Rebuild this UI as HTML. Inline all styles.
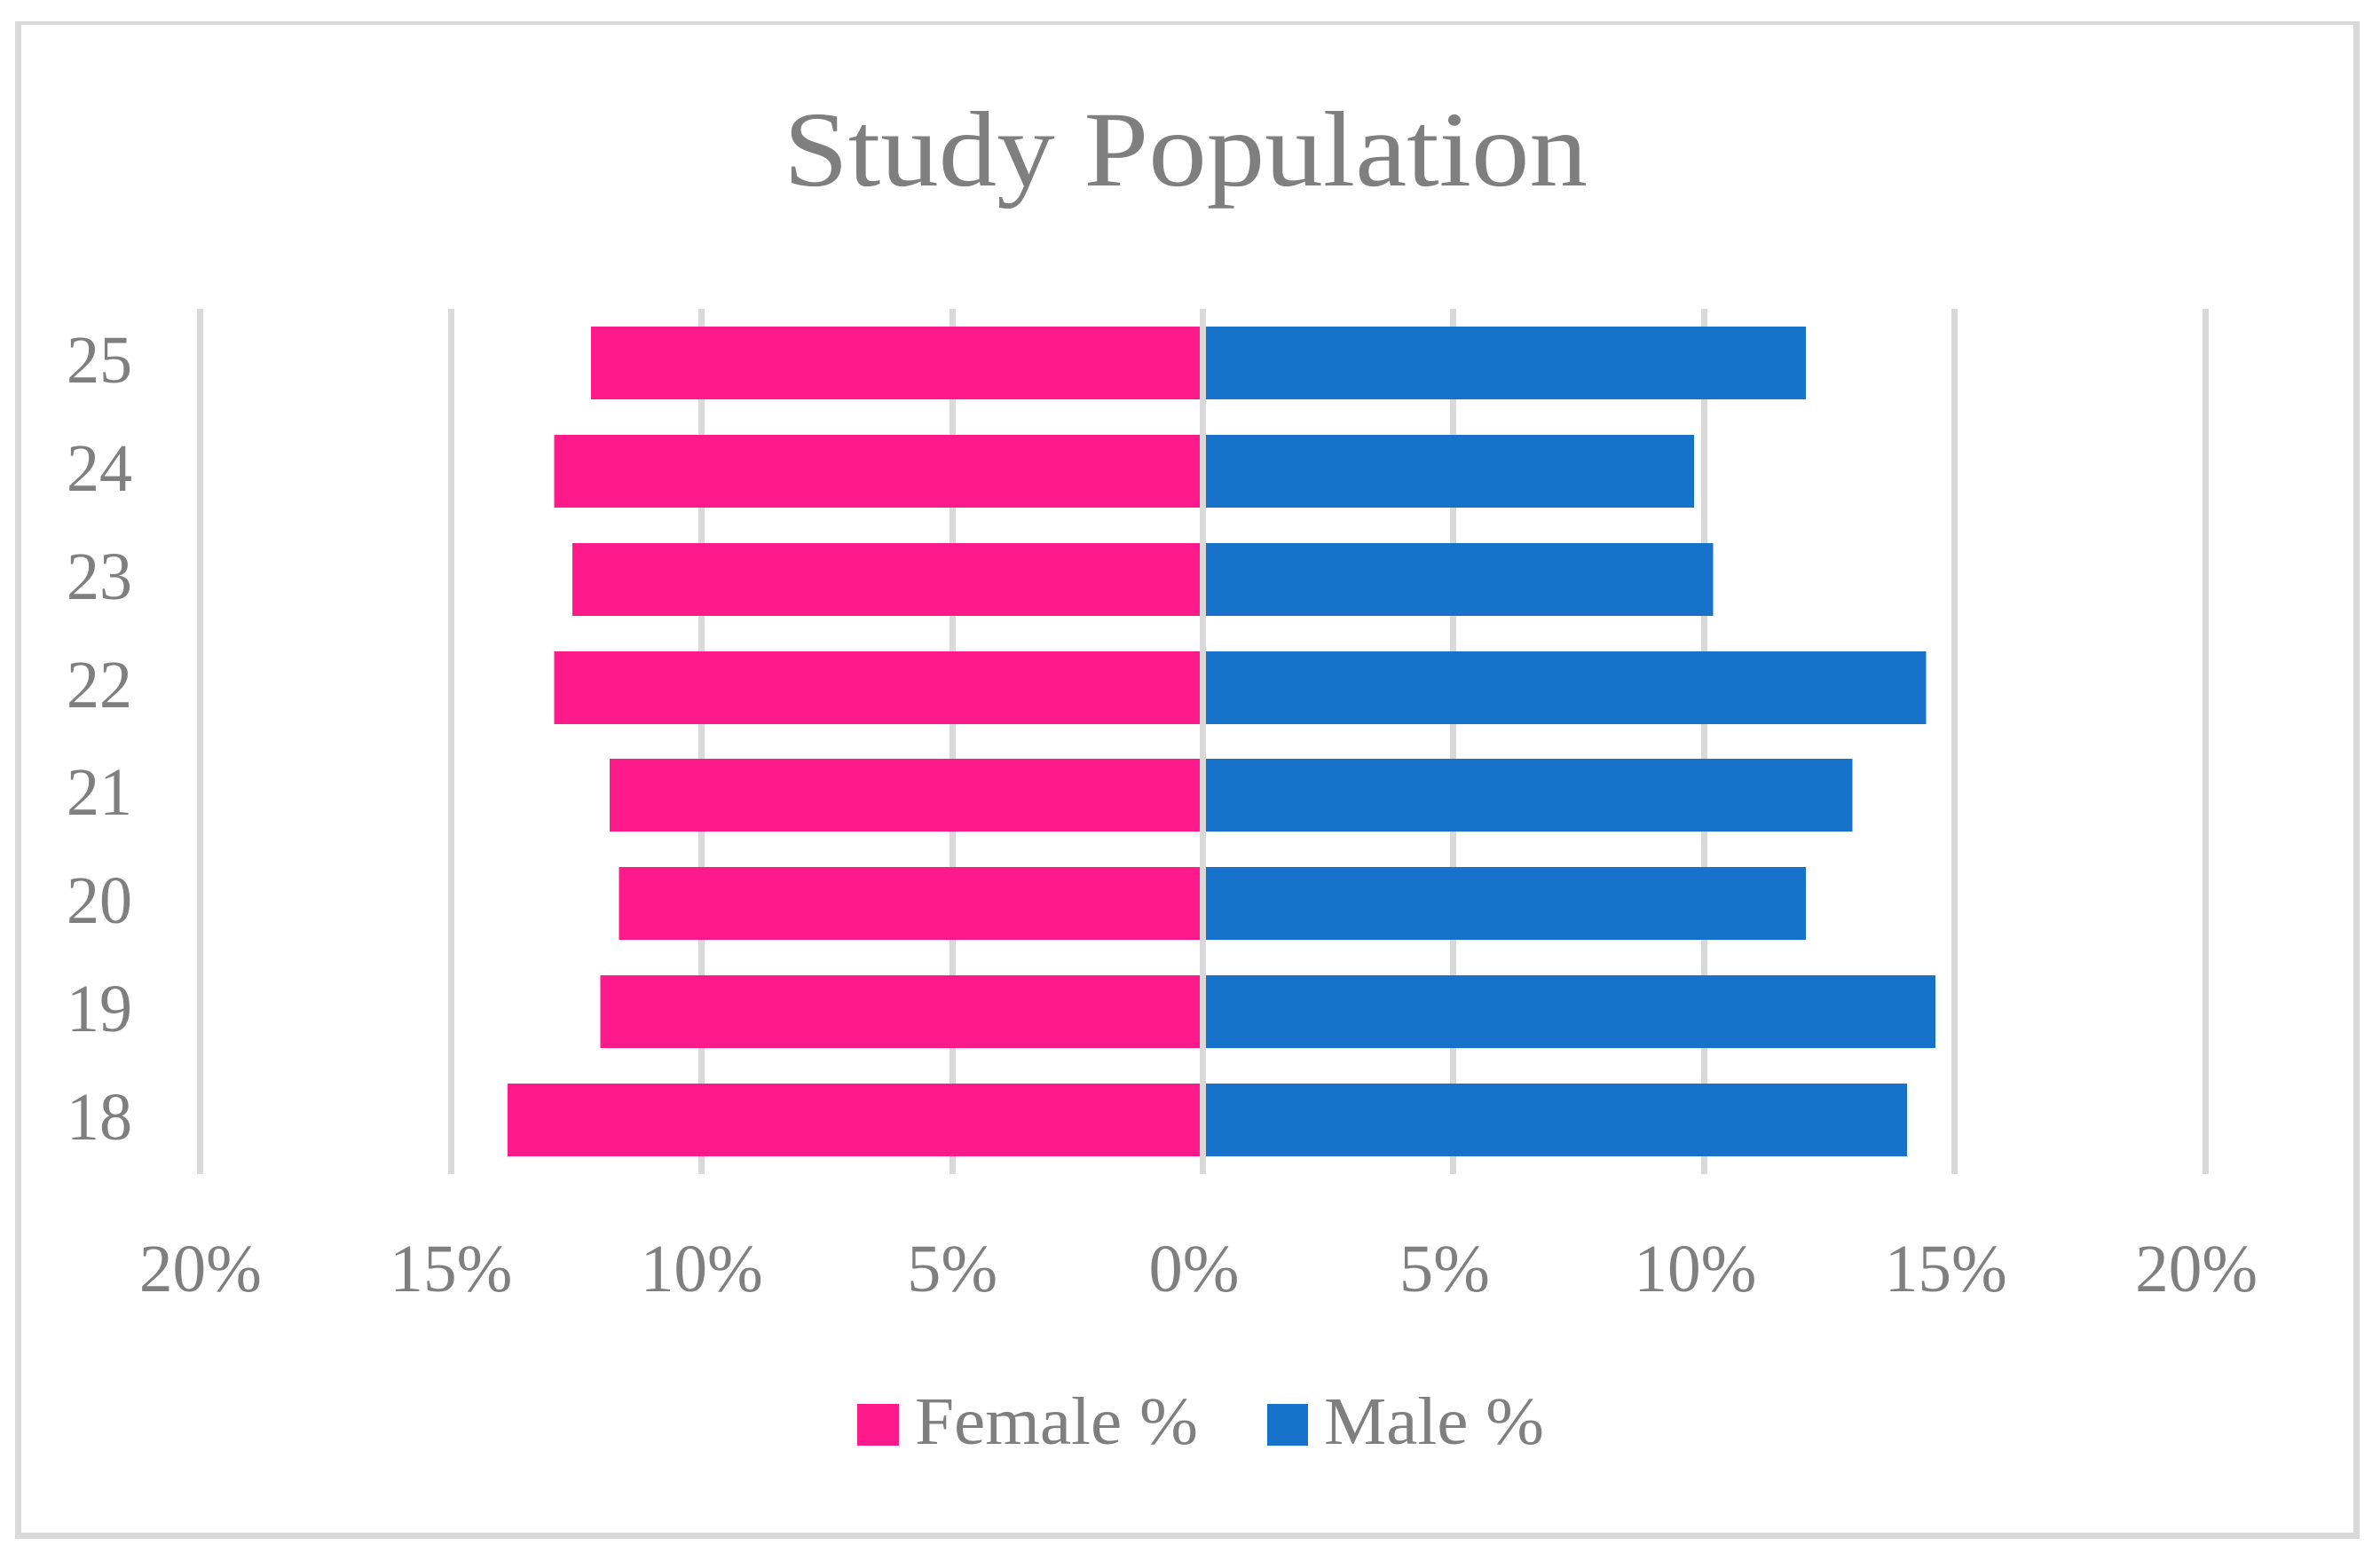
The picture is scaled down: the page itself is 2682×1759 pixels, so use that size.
<!DOCTYPE html>
<html lang="en">
<head>
<meta charset="utf-8">
<title>Study Population</title>
<style>
html,body{margin:0;padding:0;background:#fff;}
svg{display:block;}
text{font-family:"Liberation Serif","DejaVu Serif",serif;fill:#7f7f7f;}
</style>
</head>
<body>
<svg id="chart" xmlns="http://www.w3.org/2000/svg" width="2682" height="1759" viewBox="0 0 2682 1759">
  <rect x="0" y="0" width="2682" height="1759" fill="#ffffff"/>
  <g fill="#d9d9d9" shape-rendering="crispEdges">
    <rect x="17" y="24" width="2642" height="4"/>
    <rect x="17" y="1727" width="2642" height="7"/>
    <rect x="17" y="24" width="7" height="1710"/>
    <rect x="2652" y="24" width="7" height="1710"/>
  </g>
  <text x="883" y="209" font-size="121" textLength="906" lengthAdjust="spacingAndGlyphs">Study Population</text>
  <g id="grid"></g>
  <g id="bars"></g>
  <g id="zero"></g>
  <g id="yaxis"></g>
  <g id="xaxis"></g>
  <g>
    <g>
      <rect x="966" y="1582" width="47" height="47" fill="#ff1a8c"/>
      <text x="1031" y="1627" font-size="76" textLength="319" lengthAdjust="spacingAndGlyphs">Female %</text>
    </g>
    <g>
      <rect x="1428" y="1582" width="46" height="47" fill="#1773c9"/>
      <text x="1492" y="1627" font-size="76" textLength="248" lengthAdjust="spacingAndGlyphs">Male %</text>
    </g>
  </g>
</svg>
<script>
const categories = ["25", "24", "23", "22", "21", "20", "19", "18"];
const femaleValues = [12.21, 12.94, 12.58, 12.94, 11.84, 11.65, 12.02, 13.87];
const maleValues = [12.03, 9.80, 10.18, 14.43, 12.96, 12.03, 14.62, 14.05];
const tickValues = [-20, -15, -10, -5, 0, 5, 10, 15, 20];
const tickLabels = ["20%", "15%", "10%", "5%", "0%", "5%", "10%", "15%", "20%"];

const SVG_NS = "http://www.w3.org/2000/svg";
const xZero = 1355.5, xPerUnit = 56.48;
const plotTop = 348, plotBottom = 1323;
const bandTop = 368, bandPitch = 121.86, barHeight = 82;
const lineWidth = 7;

function xScale(v) { return xZero + v * xPerUnit; }
function xLabelScale(v) { return xScale(v) + (v < 0 ? 0 : -10); }
function yScale(i) { return Math.round(bandTop + i * bandPitch); }

function makeRect(x, y, w, h, fill) {
  const r = document.createElementNS(SVG_NS, "rect");
  r.setAttribute("x", x);
  r.setAttribute("y", y);
  r.setAttribute("width", w);
  r.setAttribute("height", h);
  r.setAttribute("fill", fill);
  r.setAttribute("shape-rendering", "crispEdges");
  return r;
}

const gridLayer = document.getElementById("grid");
const zeroLayer = document.getElementById("zero");
const barLayer = document.getElementById("bars");
const yLayer = document.getElementById("yaxis");
const xLayer = document.getElementById("xaxis");

tickValues.forEach(function (v, i) {
  const line = makeRect(Math.round(xScale(v) - lineWidth / 2), plotTop, lineWidth, plotBottom - plotTop, "#d9d9d9");
  
  
  (v === 0 ? zeroLayer : gridLayer).appendChild(line);

  const t = document.createElementNS(SVG_NS, "text");
  t.setAttribute("x", xLabelScale(v));
  t.setAttribute("y", 1455);
  t.setAttribute("font-size", 76);
  t.setAttribute("text-anchor", "middle");
  t.setAttribute("textLength", 36 * tickLabels[i].length + 30);
  t.setAttribute("lengthAdjust", "spacingAndGlyphs");
  t.textContent = tickLabels[i];
  
  
  xLayer.appendChild(t);
});

categories.forEach(function (c, i) {
  const y = yScale(i);

  const fx = xScale(-femaleValues[i]);
  const female = makeRect(fx, y, xZero - fx, barHeight, "#ff1a8c");
  
  
  barLayer.appendChild(female);

  const mx = xScale(maleValues[i]);
  const male = makeRect(xZero, y, mx - xZero, barHeight, "#1773c9");
  
  
  barLayer.appendChild(male);

  const t = document.createElementNS(SVG_NS, "text");
  t.setAttribute("x", 112);
  t.setAttribute("y", y + 63);
  t.setAttribute("font-size", 76);
  t.setAttribute("text-anchor", "middle");
  t.setAttribute("textLength", 74);
  t.setAttribute("lengthAdjust", "spacingAndGlyphs");
  t.textContent = c;
  
  
  yLayer.appendChild(t);
});
</script>
</body>
</html>
